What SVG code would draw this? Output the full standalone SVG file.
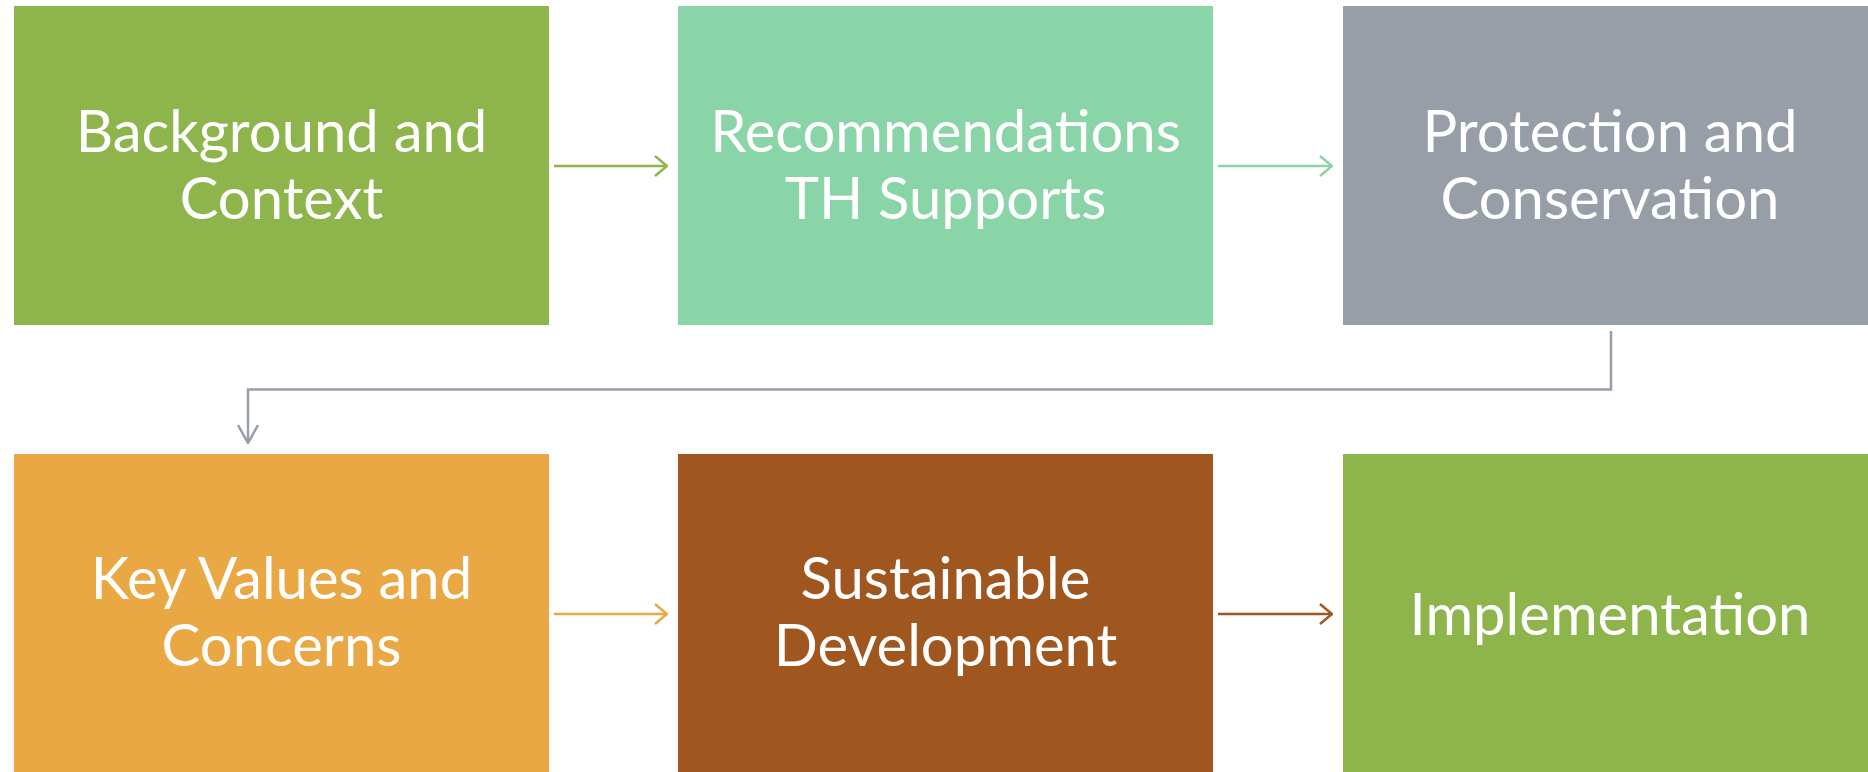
<svg xmlns="http://www.w3.org/2000/svg" width="1868" height="772" viewBox="0 0 1868 772">
<defs>
<style>
.lbl{font-family:"Lato","Open Sans","Liberation Sans",sans-serif;font-size:58px;fill:#ffffff;text-anchor:middle}
.con{fill:none;stroke-width:2.5}
</style>
<marker id="mG" viewBox="0 0 14 22" refX="13" refY="11" markerWidth="14" markerHeight="22" markerUnits="userSpaceOnUse" orient="auto"><path d="M1,1 L13,11 L1,21" fill="none" stroke="#8DB54B" stroke-width="2.5"/></marker>
<marker id="mT" viewBox="0 0 14 22" refX="13" refY="11" markerWidth="14" markerHeight="22" markerUnits="userSpaceOnUse" orient="auto"><path d="M1,1 L13,11 L1,21" fill="none" stroke="#8AD5A8" stroke-width="2.5"/></marker>
<marker id="mS" viewBox="0 0 20 22" refX="19" refY="11" markerWidth="20" markerHeight="22" markerUnits="userSpaceOnUse" orient="auto"><path d="M1,1 L19,11 L1,21" fill="none" stroke="#979EA8" stroke-width="2.5"/></marker>
<marker id="mO" viewBox="0 0 14 22" refX="13" refY="11" markerWidth="14" markerHeight="22" markerUnits="userSpaceOnUse" orient="auto"><path d="M1,1 L13,11 L1,21" fill="none" stroke="#E9A844" stroke-width="2.5"/></marker>
<marker id="mB" viewBox="0 0 14 22" refX="13" refY="11" markerWidth="14" markerHeight="22" markerUnits="userSpaceOnUse" orient="auto"><path d="M1,1 L13,11 L1,21" fill="none" stroke="#A0561F" stroke-width="2.5"/></marker>
</defs>
<rect width="1868" height="772" fill="#ffffff"/>
<g id="connectors">
<line class="con" x1="554" y1="166" x2="667" y2="166" stroke="#8DB54B" marker-end="url(#mG)"/>
<line class="con" x1="1218" y1="166" x2="1332" y2="166" stroke="#8AD5A8" marker-end="url(#mT)"/>
<polyline class="con" points="1611,331 1611,389.5 248,389.5 248,443" stroke="#979EA8" marker-end="url(#mS)"/>
<line class="con" x1="554" y1="614" x2="667" y2="614" stroke="#E9A844" marker-end="url(#mO)"/>
<line class="con" x1="1218" y1="614" x2="1332" y2="614" stroke="#A0561F" marker-end="url(#mB)"/>
</g>
<g id="node-background">
<rect x="14" y="6" width="535" height="319" fill="#8DB54B"/>
<text class="lbl" x="281.5" y="152">Background and</text>
<text class="lbl" x="281.5" y="219">Context</text>
</g>
<g id="node-recommendations">
<rect x="678" y="6" width="535" height="319" fill="#8AD5A8"/>
<text class="lbl" x="945.5" y="152">Recommendations</text>
<text class="lbl" x="945.5" y="219">TH Supports</text>
</g>
<g id="node-protection">
<rect x="1343" y="6" width="535" height="319" fill="#979EA8"/>
<text class="lbl" x="1610" y="152">Protection and</text>
<text class="lbl" x="1610" y="219">Conservation</text>
</g>
<g id="node-keyvalues">
<rect x="14" y="454" width="535" height="319" fill="#E9A844"/>
<text class="lbl" x="281.5" y="599">Key Values and</text>
<text class="lbl" x="281.5" y="666">Concerns</text>
</g>
<g id="node-sustainable">
<rect x="678" y="454" width="535" height="319" fill="#A0561F"/>
<text class="lbl" x="945.5" y="599">Sustainable</text>
<text class="lbl" x="945.5" y="666">Development</text>
</g>
<g id="node-implementation">
<rect x="1343" y="454" width="535" height="319" fill="#8DB54B"/>
<text class="lbl" x="1610" y="635">Implementation</text>
</g>
</svg>
